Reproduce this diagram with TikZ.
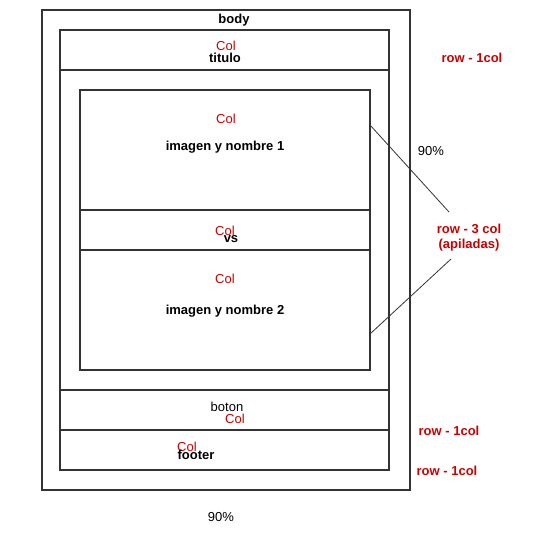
\documentclass[tikz,border=0pt]{standalone}
\usepackage{fontspec}
\setmainfont{Liberation Sans}
\usetikzlibrary{positioning}
\definecolor{colred}{HTML}{CC0000}
\definecolor{boxgray}{HTML}{333333}
\begin{document}
\begin{tikzpicture}[%
    x=1pt, y=-1pt,              % Pixel-like units, top-down
    every node/.style={font=\fontsize{13}{15}\selectfont},
    ]
% -------------------------------------------------
% Box and text styles
\tikzset{
  box/.style={draw=boxgray, line width=2pt, inner sep=0pt, outer sep=0pt},
  lbl/.style={text=black, font=\fontsize{13}{15}\selectfont\bfseries},
  plain/.style={text=black, font=\fontsize{13}{15}\selectfont},
  colt/.style={text=colred, font=\fontsize{13}{15}\selectfont},
  rowt/.style={text=colred, align=center, font=\fontsize{13}{15}\selectfont\bfseries},
  lead/.style={draw=boxgray, line width=0.8pt}
}
\useasboundingbox (0,0) rectangle (533,544);
% -------------------------------------------------
% The boxes, outside in
\node [box, minimum width=368, minimum height=480] (body) at (226,250) {};
\node [box, minimum width=329, minimum height=40] (titulo) at (224.5,50) {};
\node [box, minimum width=329, minimum height=320] (centro) at (224.5,230) {};
\node [box, minimum width=329, minimum height=40] (boton) at (224.5,410) {};
\node [box, minimum width=329, minimum height=40] (footer) at (224.5,450) {};
\node [box, minimum width=290, minimum height=120] (img1) at (225,150) {};
\node [box, minimum width=290, minimum height=40] (vs) at (225,230) {};
\node [box, minimum width=290, minimum height=120] (img2) at (225,310) {};

% Texts inside the boxes
\node [lbl] (tbody) at (234,20) {body};
\node [colt] (ctit) at (226,46) {Col};
\node [lbl] (ttit) at (225,58) {titulo};
\node [colt] (cimg1) at (226,119) {Col};
\node [lbl] (timg1) at (225,147) {imagen y nombre 1};
\node [colt] (cvs) at (225,231) {Col};
\node [lbl] (tvs) at (231,239) {vs};
\node [colt] (cimg2) at (225,279) {Col};
\node [lbl] (timg2) at (225,311) {imagen y nombre 2};
\node [plain] (tbot) at (227,407) {boton};
\node [colt] (cbot) at (235,419) {Col};
\node [colt] (cfoot) at (187,447) {Col};
\node [lbl] (tfoot) at (196,455) {footer};

% Notes on the right and below
\node [rowt] (r1) at (472,58) {row - 1col};
\node [plain] (p1) at (431,151) {90\%};
\node [rowt] (r3) at (469,238) {row - 3 col\\(apiladas)};
\node [rowt] (r4) at (449,431) {row - 1col};
\node [rowt] (r5) at (447,471) {row - 1col};
\node [plain] (p2) at (221,517) {90\%};

% Leader lines
\coordinate (e1) at (370,125);
\coordinate (e2) at (370,334);
\coordinate (a1) at (449,212);
\coordinate (a2) at (451,259);
\draw [lead] (e1) -- (a1);
\draw [lead] (e2) -- (a2);
% -------------------------------------------------
\end{tikzpicture}
\end{document}
